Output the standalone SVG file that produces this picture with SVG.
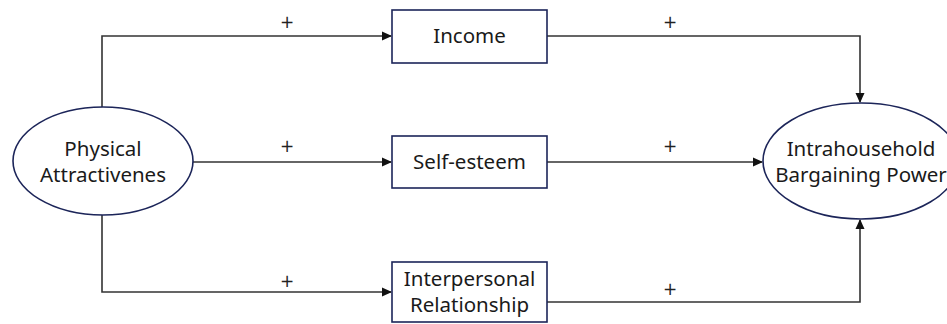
<svg xmlns="http://www.w3.org/2000/svg" width="947" height="324" viewBox="0 0 947 324">
<defs>
<marker id="arr" markerWidth="10" markerHeight="10" refX="9" refY="5" orient="auto" markerUnits="userSpaceOnUse">
<path d="M0,0.5 L10,5 L0,9.5 Z" fill="#111"/>
</marker>
<style>
.node{fill:#fff;stroke:#1c2559;stroke-width:1.6}
.lbl{font-family:"Noto Sans","Open Sans","DejaVu Sans",sans-serif;font-size:20.5px;fill:#1a1a1a;text-anchor:middle}
.pl{font-family:"DejaVu Sans","Noto Sans",sans-serif;font-size:17px;fill:#222;text-anchor:middle}
.c{fill:none;stroke:#333;stroke-width:1.6}
</style>
</defs>
<rect width="947" height="324" fill="#fff"/>
<g id="connectors">
<path class="c" d="M102,107 V36 H391" marker-end="url(#arr)"/>
<path class="c" d="M547,36 H860 V102" marker-end="url(#arr)"/>
<path class="c" d="M193,162 H391" marker-end="url(#arr)"/>
<path class="c" d="M547,162 H762" marker-end="url(#arr)"/>
<path class="c" d="M102,215 V292 H391" marker-end="url(#arr)"/>
<path class="c" d="M547,302 H860 V220" marker-end="url(#arr)"/>
<text class="pl" x="287" y="28">+</text>
<text class="pl" x="670" y="28">+</text>
<text class="pl" x="287" y="152">+</text>
<text class="pl" x="670" y="152">+</text>
<text class="pl" x="287" y="287">+</text>
<text class="pl" x="670" y="295">+</text>
</g>
<g id="physical">
<ellipse class="node" cx="103" cy="161" rx="90" ry="54"/>
<text class="lbl" x="103" y="156">Physical</text>
<text class="lbl" x="103" y="182">Attractivenes</text>
</g>
<g id="income">
<rect class="node" x="392" y="10" width="155" height="53"/>
<text class="lbl" x="469.5" y="43">Income</text>
</g>
<g id="selfesteem">
<rect class="node" x="392" y="136" width="155" height="52"/>
<text class="lbl" x="469.5" y="169">Self-esteem</text>
</g>
<g id="interpersonal">
<rect class="node" x="392" y="262" width="155" height="60"/>
<text class="lbl" x="469.5" y="286">Interpersonal</text>
<text class="lbl" x="469.5" y="312">Relationship</text>
</g>
<g id="bargaining">
<ellipse class="node" cx="861" cy="161" rx="98" ry="58"/>
<text class="lbl" x="861" y="156">Intrahousehold</text>
<text class="lbl" x="861" y="182">Bargaining Power</text>
</g>
</svg>
